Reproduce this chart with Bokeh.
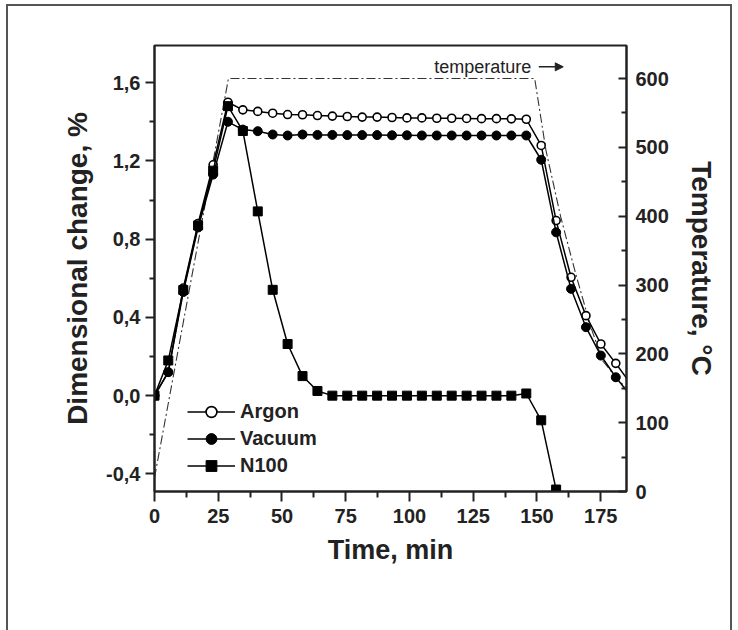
from bokeh.plotting import figure
from bokeh.models import (Range1d, LinearAxis, FixedTicker, CustomJSTickFormatter,
                          Legend, LegendItem, Label, Arrow, NormalHead)
from bokeh.embed import file_html
from bokeh.resources import INLINE

# ---------------- data ----------------
time_min = [0, 5.4, 11.3, 17.1, 23.0, 28.8,
            34.65, 40.5, 46.35, 52.2, 58.05, 63.9, 69.75, 75.6, 81.45, 87.3,
            93.15, 99.0, 104.85, 110.7, 116.55, 122.4, 128.25, 134.1, 139.95, 145.8,
            151.65, 157.5, 163.35, 169.2, 175.05, 180.9, 186.75]

argon = [0.0, 0.12, 0.55, 0.88, 1.18, 1.50,
         1.461, 1.453, 1.444, 1.437, 1.436, 1.432, 1.429, 1.427, 1.424, 1.424,
         1.422, 1.420, 1.420, 1.418, 1.418, 1.417, 1.416, 1.416, 1.415, 1.413,
         1.279, 0.895, 0.605, 0.409, 0.264, 0.165, 0.06]

vacuum = [0.0, 0.12, 0.53, 0.86, 1.13, 1.40,
          1.36, 1.352, 1.335, 1.33, 1.335, 1.333, 1.333, 1.332, 1.332, 1.332,
          1.331, 1.331, 1.330, 1.330, 1.330, 1.330, 1.330, 1.330, 1.330, 1.330,
          1.206, 0.835, 0.546, 0.35, 0.205, 0.094, 0.0]

n100 = [0.0, 0.18, 0.54, 0.87, 1.15, 1.48,
        1.353, 0.942, 0.541, 0.264, 0.10, 0.024, 0.0, 0.0, 0.0, 0.0,
        0.0, 0.0, 0.0, 0.0, 0.0, 0.0, 0.0, 0.0, 0.0, 0.011,
        -0.126, -0.48]

temp_time = [0, 29.0, 149.1, 153.5, 159.3, 165.2, 171.1, 175.7, 181.0, 185.1]
temp_values = [20, 600, 600, 496, 399, 316, 239, 190, 166, 150]

x_ticks = [0, 25, 50, 75, 100, 125, 150, 175]
x_minor = [12.5, 37.5, 62.5, 87.5, 112.5, 137.5, 162.5]
y_ticks = [-0.4, 0.0, 0.4, 0.8, 1.2, 1.6]
y_minor = [-0.2, 0.2, 0.6, 1.0, 1.4]
t_ticks = [0, 100, 200, 300, 400, 500, 600]
t_minor = [50, 150, 250, 350, 450, 550]

n_markers = 32  # argon / vacuum symbols shown up to 180.9 min

FONT = "Liberation Sans"

p = figure(width=738, height=630, output_backend="svg", toolbar_location=None,
           x_range=Range1d(0, 185.1), y_range=Range1d(-0.49, 1.79),
           min_border_left=154, min_border_right=112,
           min_border_top=45, min_border_bottom=139)
p.extra_y_ranges = {"temp": Range1d(0, 648)}
p.xgrid.visible = False
p.ygrid.visible = False
p.border_fill_color = None
p.outline_line_color = "#222222"
p.outline_line_width = 2
# outer picture frame (left, top, right edges)
p.styles = {"box-shadow": ("inset 6px 4px 0 white, inset -6px 0 0 white, "
                           "inset 8px 6px 0 #555555, inset -8px 0 0 #555555")}

# temperature curve (right axis)
p.line(temp_time, temp_values, y_range_name="temp", line_color="#333333",
       line_width=1.1, line_dash="9 3 2 3")

# series
ra = p.line(time_min, argon, line_color="black", line_width=1.5)
sa = p.scatter(time_min[:n_markers], argon[:n_markers], marker="circle", size=8,
               fill_color="white", line_color="black", line_width=1.6)
rv = p.line(time_min, vacuum, line_color="black", line_width=1.5)
sv = p.scatter(time_min[:n_markers], vacuum[:n_markers], marker="circle", size=9,
               fill_color="black", line_color="black")
rn = p.line(time_min[:len(n100)], n100, line_color="black", line_width=1.5)
sn = p.scatter(time_min[:len(n100)], n100, marker="square", size=9,
               fill_color="black", line_color="black")

# axes styling
def style_axis(ax):
    ax.axis_line_color = "#222222"
    ax.axis_line_width = 2
    ax.major_tick_line_color = "#222222"
    ax.minor_tick_line_color = "#222222"
    ax.major_tick_line_width = 2
    ax.minor_tick_line_width = 2
    ax.major_label_text_font = FONT
    ax.major_label_text_font_style = "bold"
    ax.major_label_text_font_size = "20px"
    ax.major_label_text_color = "#222222"
    ax.axis_label_text_font = FONT
    ax.axis_label_text_font_style = "bold"
    ax.axis_label_text_color = "#222222"

xa = p.xaxis[0]
style_axis(xa)
xa.ticker = FixedTicker(ticks=x_ticks, minor_ticks=x_minor)
xa.major_tick_out = 10
xa.major_tick_in = 0
xa.minor_tick_out = 6
xa.minor_tick_in = 0
xa.major_label_standoff = 7
xa.axis_label = "Time, min"
xa.axis_label_text_font_size = "27px"
xa.axis_label_standoff = 9

ya = p.yaxis[0]
style_axis(ya)
ya.ticker = FixedTicker(ticks=y_ticks, minor_ticks=y_minor)
ya.formatter = CustomJSTickFormatter(code="return tick.toFixed(1).replace('.', ',');")
ya.major_tick_out = 9
ya.major_tick_in = 0
ya.minor_tick_out = 5
ya.minor_tick_in = 0
ya.major_label_standoff = 5
ya.axis_label = "Dimensional change, %"
ya.axis_label_text_font_size = "28px"
ya.axis_label_standoff = 10

ta = LinearAxis(y_range_name="temp")
style_axis(ta)
ta.ticker = FixedTicker(ticks=t_ticks, minor_ticks=t_minor)
ta.major_tick_out = 0
ta.major_tick_in = 8
ta.minor_tick_out = 0
ta.minor_tick_in = 5
ta.major_label_standoff = 9
ta.axis_label = "Temperature, °C"
ta.axis_label_text_font_size = "28px"
ta.axis_label_standoff = 14
p.add_layout(ta, "right")

# "temperature ->" note
note_x, note_y = 128.7, 617.0
arrow_x0, arrow_x1 = 150.7, 160.3
p.add_layout(Label(x=note_x, y=note_y, y_range_name="temp", text="temperature",
                   text_font=FONT, text_font_size="18px", text_color="#222222",
                   text_align="center", text_baseline="middle"))
p.add_layout(Arrow(x_start=arrow_x0, y_start=note_y, x_end=arrow_x1, y_end=note_y,
                   y_range_name="temp", line_color="#222222", line_width=1.5,
                   end=NormalHead(size=8, fill_color="#222222", line_color="#222222")))

# legend
legend = Legend(items=[LegendItem(label="Argon", renderers=[ra, sa]),
                       LegendItem(label="Vacuum", renderers=[rv, sv]),
                       LegendItem(label="N100", renderers=[rn, sn])],
                location=(33, 12), orientation="vertical",
                glyph_width=48, glyph_height=27, label_height=27, spacing=0,
                label_standoff=5, padding=0, margin=0,
                border_line_color=None, background_fill_alpha=0,
                label_text_font=FONT, label_text_font_style="bold",
                label_text_font_size="20px", label_text_color="#222222")
p.add_layout(legend, "center")

open("out.html", "w").write(file_html(p, INLINE))
